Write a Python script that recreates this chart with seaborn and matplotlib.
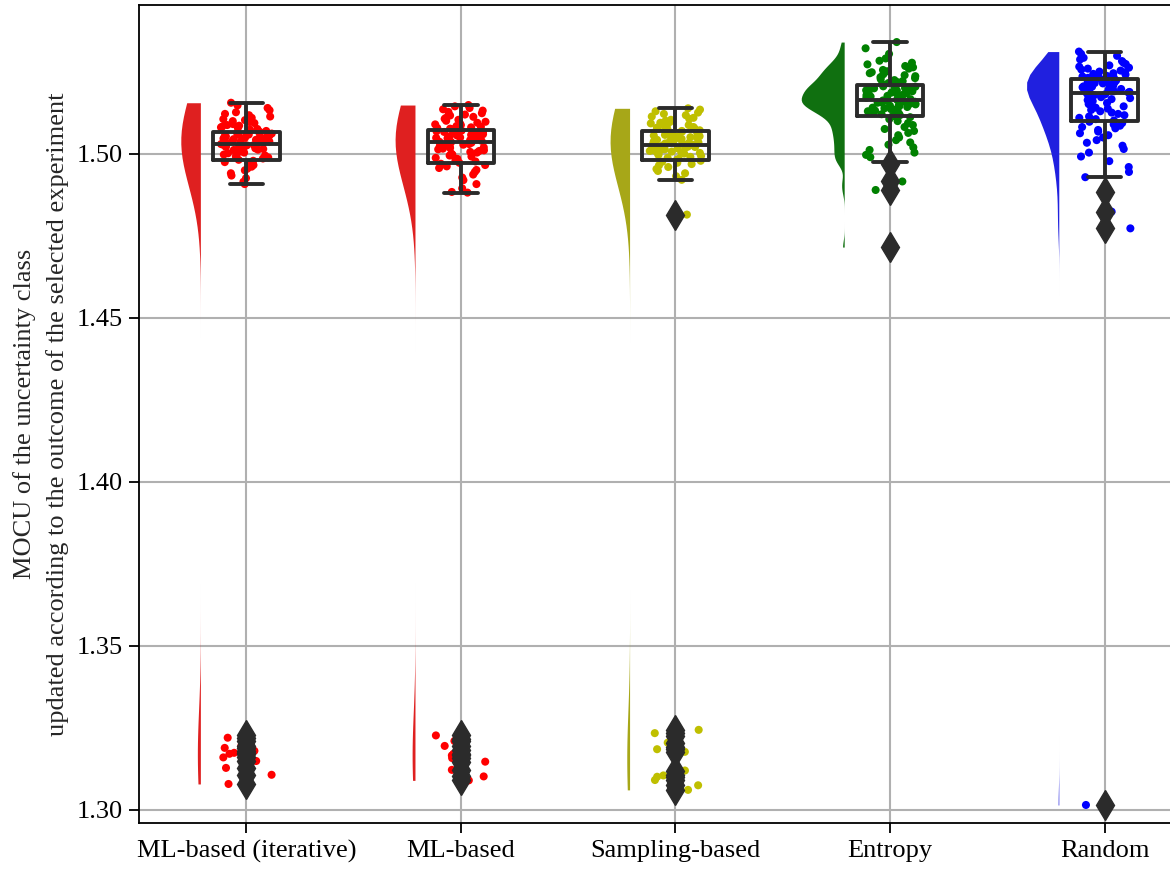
import numpy as np
import pandas as pd
import matplotlib
matplotlib.use("Agg")
import matplotlib.pyplot as plt
import seaborn as sns

# Strategies compared on the x axis
methods = ["ML-based (iterative)", "ML-based", "Sampling-based", "Entropy", "Random"]

# Updated MOCU after the selected experiment, one list per strategy
mocu_ml_iterative = [
    1.3229, 1.3220, 1.3210, 1.3195, 1.3189, 1.3180, 1.3174, 1.3171, 1.3160, 1.3149,
    1.3128, 1.3107, 1.3079,
    1.4908, 1.4915, 1.4926, 1.4934, 1.4941, 1.4950, 1.4955, 1.4961, 1.4966, 1.4971,
    1.4975, 1.4979,
    1.4982, 1.4986, 1.4989, 1.4992, 1.4995, 1.4998, 1.5000, 1.5002, 1.5004, 1.5006,
    1.5008, 1.5010, 1.5012, 1.5013, 1.5015, 1.5017, 1.5018, 1.5020, 1.5021, 1.5023,
    1.5024, 1.5026, 1.5027, 1.5028, 1.5030,
    1.5031, 1.5032, 1.5034, 1.5035, 1.5037, 1.5038, 1.5039, 1.5041, 1.5042, 1.5043,
    1.5045, 1.5046, 1.5047, 1.5049, 1.5050, 1.5052, 1.5053, 1.5055, 1.5056, 1.5058,
    1.5059, 1.5061, 1.5062, 1.5064, 1.5066,
    1.5068, 1.5070, 1.5072, 1.5074, 1.5076, 1.5079, 1.5081, 1.5083, 1.5086, 1.5088,
    1.5091, 1.5094, 1.5097, 1.5100, 1.5103, 1.5106, 1.5110, 1.5114, 1.5118, 1.5122,
    1.5127, 1.5133, 1.5140, 1.5148, 1.5156,
]
mocu_ml = [
    1.3227, 1.3215, 1.3210, 1.3195, 1.3183, 1.3171, 1.3166, 1.3158, 1.3147, 1.3122,
    1.3102, 1.3090,
    1.4882, 1.4884, 1.4895, 1.4908, 1.4920, 1.4928, 1.4937, 1.4945, 1.4951, 1.4957,
    1.4962, 1.4966, 1.4970,
    1.4973, 1.4977, 1.4981, 1.4985, 1.4988, 1.4992, 1.4995, 1.4998, 1.5001, 1.5004,
    1.5006, 1.5009, 1.5011, 1.5014, 1.5016, 1.5018, 1.5020, 1.5022, 1.5024, 1.5026,
    1.5028, 1.5030, 1.5032, 1.5034, 1.5036,
    1.5037, 1.5039, 1.5040, 1.5042, 1.5043, 1.5045, 1.5046, 1.5048, 1.5049, 1.5050,
    1.5052, 1.5053, 1.5054, 1.5056, 1.5057, 1.5058, 1.5060, 1.5061, 1.5063, 1.5064,
    1.5066, 1.5067, 1.5069, 1.5071, 1.5073,
    1.5075, 1.5077, 1.5079, 1.5081, 1.5083, 1.5085, 1.5088, 1.5090, 1.5093, 1.5095,
    1.5098, 1.5101, 1.5104, 1.5107, 1.5110, 1.5113, 1.5117, 1.5120, 1.5124, 1.5128,
    1.5132, 1.5136, 1.5140, 1.5145, 1.5149,
]
mocu_sampling = [
    1.3244, 1.3234, 1.3224, 1.3205, 1.3191, 1.3185, 1.3177, 1.3120, 1.3105, 1.3101,
    1.3091, 1.3075, 1.3061,
    1.4815,
    1.4921, 1.4932, 1.4941, 1.4948, 1.4954, 1.4960, 1.4965, 1.4969, 1.4973, 1.4976,
    1.4979,
    1.4982, 1.4985, 1.4988, 1.4991, 1.4994, 1.4997, 1.4999, 1.5001, 1.5003, 1.5005,
    1.5007, 1.5009, 1.5010, 1.5012, 1.5014, 1.5015, 1.5017, 1.5018, 1.5020, 1.5021,
    1.5022, 1.5023, 1.5024, 1.5026, 1.5027,
    1.5028, 1.5030, 1.5031, 1.5032, 1.5034, 1.5035, 1.5036, 1.5038, 1.5039, 1.5041,
    1.5042, 1.5043, 1.5045, 1.5046, 1.5048, 1.5049, 1.5051, 1.5052, 1.5054, 1.5056,
    1.5058, 1.5060, 1.5062, 1.5065, 1.5068,
    1.5070, 1.5072, 1.5074, 1.5076, 1.5078, 1.5080, 1.5082, 1.5084, 1.5086, 1.5088,
    1.5091, 1.5093, 1.5095, 1.5098, 1.5101, 1.5104, 1.5107, 1.5110, 1.5114, 1.5118,
    1.5122, 1.5126, 1.5130, 1.5135, 1.5139,
]
mocu_entropy = [
    1.4716, 1.4890, 1.4916,
    1.4968, 1.4975, 1.4983, 1.4990, 1.4997, 1.5004, 1.5012, 1.5020, 1.5028, 1.5035,
    1.5042, 1.5050, 1.5057, 1.5064, 1.5070, 1.5076, 1.5082, 1.5088, 1.5094, 1.5100,
    1.5106, 1.5112,
    1.5115, 1.5118, 1.5121, 1.5124, 1.5127, 1.5130, 1.5132, 1.5135, 1.5137, 1.5139,
    1.5141, 1.5143, 1.5145, 1.5147, 1.5149, 1.5151, 1.5153, 1.5154, 1.5156, 1.5157,
    1.5158, 1.5159, 1.5160, 1.5162, 1.5163,
    1.5165, 1.5167, 1.5169, 1.5171, 1.5173, 1.5175, 1.5177, 1.5179, 1.5181, 1.5183,
    1.5185, 1.5187, 1.5189, 1.5191, 1.5193, 1.5194, 1.5196, 1.5198, 1.5200, 1.5201,
    1.5203, 1.5205, 1.5206, 1.5208, 1.5210,
    1.5213, 1.5216, 1.5219, 1.5222, 1.5225, 1.5228, 1.5231, 1.5234, 1.5237, 1.5240,
    1.5243, 1.5246, 1.5249, 1.5252, 1.5256, 1.5260, 1.5264, 1.5268, 1.5273, 1.5278,
    1.5284, 1.5291, 1.5305, 1.5322, 1.5341,
]
mocu_random = [
    1.3015, 1.4773, 1.4824, 1.4885,
    1.4929, 1.4945, 1.4960, 1.4978, 1.4992, 1.5004, 1.5015, 1.5025, 1.5034, 1.5042,
    1.5050, 1.5057, 1.5063, 1.5068, 1.5073, 1.5078, 1.5082, 1.5086, 1.5090, 1.5094,
    1.5098,
    1.5102, 1.5106, 1.5110, 1.5114, 1.5118, 1.5122, 1.5126, 1.5130, 1.5134, 1.5138,
    1.5141, 1.5145, 1.5148, 1.5152, 1.5155, 1.5158, 1.5161, 1.5164, 1.5167, 1.5170,
    1.5173, 1.5176, 1.5179, 1.5182, 1.5185,
    1.5187, 1.5189, 1.5191, 1.5192, 1.5194, 1.5196, 1.5198, 1.5199, 1.5201, 1.5203,
    1.5205, 1.5206, 1.5208, 1.5210, 1.5211, 1.5213, 1.5215, 1.5216, 1.5218, 1.5220,
    1.5221, 1.5223, 1.5224, 1.5226, 1.5228,
    1.5230, 1.5232, 1.5234, 1.5236, 1.5238, 1.5240, 1.5242, 1.5244, 1.5246, 1.5249,
    1.5251, 1.5254, 1.5257, 1.5260, 1.5263, 1.5266, 1.5270, 1.5274, 1.5278, 1.5283,
    1.5288, 1.5293, 1.5299, 1.5305, 1.5312,
]

palette = ["red", "red", "y", "g", "b"]
y_ticks = [1.30, 1.35, 1.40, 1.45, 1.50]
y_label = "MOCU of the uncertainty class\nupdated according to the outcome of the selected experiment"

series = [mocu_ml_iterative, mocu_ml, mocu_sampling, mocu_entropy, mocu_random]
df = pd.DataFrame({
    "method": np.repeat(methods, [len(s) for s in series]),
    "mocu": np.concatenate(series),
})

sns.set_style("white")
plt.rcParams["font.family"] = ["Liberation Serif", "DejaVu Serif"]
plt.rcParams["font.size"] = 19

fig = plt.figure(figsize=(11.7, 8.69), dpi=100)
ax = fig.add_axes([139 / 1170, 46 / 869, (1212 - 139) / 1170, (823 - 5) / 869])

# cloud: half violins pushed to the left of each category
sns.violinplot(data=df, x="method", y="mocu", hue="method", order=methods,
               hue_order=methods, palette=palette, inner=None, cut=0,
               bw_method=0.2, linewidth=0, width=0.4, density_norm="area",
               common_norm=True, legend=False, ax=ax)
cloud_shift = -0.214
for coll in list(ax.collections):
    new_verts = []
    for p in coll.get_paths():
        v = p.vertices.copy()
        cx = round((v[:, 0].max() + v[:, 0].min()) / 2)
        v[:, 0] = np.minimum(v[:, 0], cx) + cloud_shift
        new_verts.append(v)
    coll.set_verts(new_verts)
    coll.set_zorder(1)

# rain: jittered raw observations
sns.stripplot(data=df, x="method", y="mocu", hue="method", order=methods,
              hue_order=methods, palette=palette, size=5.8, jitter=0.12,
              linewidth=0, legend=False, zorder=2, ax=ax)

# boxes drawn over the points
sns.boxplot(data=df, x="method", y="mocu", order=methods, width=0.31,
            fill=False, color="#2b2b2b", linewidth=2.8,
            flierprops=dict(marker="d", markersize=15, markerfacecolor="#2b2b2b",
                            markeredgecolor="#2b2b2b"),
            zorder=3, ax=ax)

ax.set_xlim(-0.5, 4.5)
ax.set_ylim(1.296, 1.5454)
ax.set_yticks(y_ticks)
ax.set_yticklabels([f"{t:.2f}" for t in y_ticks])
ax.set_axisbelow(True)
ax.grid(True, color="#b0b0b0", linewidth=1.5)
ax.set_xlabel("")
ax.set_ylabel(y_label, fontsize=19, labelpad=5, linespacing=1.55)
ax.tick_params(axis="both", direction="out", length=7, width=1.3, pad=5,
               labelsize=19, left=True, bottom=True, colors="black")
for s in ax.spines.values():
    s.set_visible(True)
    s.set_color("black")
    s.set_linewidth(1.3)

fig.savefig("out.png", dpi=100)
